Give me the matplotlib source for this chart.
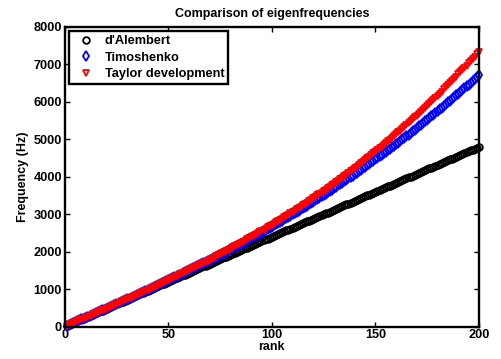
import matplotlib
matplotlib.use('Agg')
import matplotlib.pyplot as plt

plt.rcParams['font.family'] = ['Liberation Sans', 'DejaVu Sans']
plt.rcParams['font.weight'] = 'bold'

# Mode rank 1..200
rank = list(range(1, 201))

# Eigenfrequencies (Hz) for each model
freq_dalembert = [
    24, 48, 72, 96, 120, 144, 168, 192, 216, 240,
    264, 288, 312, 336, 360, 384, 408, 432, 456, 480,
    504, 528, 552, 576, 600, 624, 648, 672, 696, 720,
    744, 768, 792, 816, 840, 864, 888, 912, 936, 960,
    984, 1008, 1032, 1056, 1080, 1104, 1128, 1152, 1176, 1200,
    1224, 1248, 1272, 1296, 1320, 1344, 1368, 1392, 1416, 1440,
    1464, 1488, 1512, 1536, 1560, 1584, 1608, 1632, 1656, 1680,
    1704, 1728, 1752, 1776, 1800, 1824, 1848, 1872, 1896, 1920,
    1944, 1968, 1992, 2016, 2040, 2064, 2088, 2112, 2136, 2160,
    2184, 2208, 2232, 2256, 2280, 2304, 2328, 2352, 2376, 2400,
    2424, 2448, 2472, 2496, 2520, 2544, 2568, 2592, 2616, 2640,
    2664, 2688, 2712, 2736, 2760, 2784, 2808, 2832, 2856, 2880,
    2904, 2928, 2952, 2976, 3000, 3024, 3048, 3072, 3096, 3120,
    3144, 3168, 3192, 3216, 3240, 3264, 3288, 3312, 3336, 3360,
    3384, 3408, 3432, 3456, 3480, 3504, 3528, 3552, 3576, 3600,
    3624, 3648, 3672, 3696, 3720, 3744, 3768, 3792, 3816, 3840,
    3864, 3888, 3912, 3936, 3960, 3984, 4008, 4032, 4056, 4080,
    4104, 4128, 4152, 4176, 4200, 4224, 4248, 4272, 4296, 4320,
    4344, 4368, 4392, 4416, 4440, 4464, 4488, 4512, 4536, 4560,
    4584, 4608, 4632, 4656, 4680, 4704, 4728, 4752, 4776, 4800,
]

freq_timoshenko = [
    24, 48, 72, 96, 120, 144, 168, 192, 216, 240,
    264, 288, 313, 337, 361, 385, 409, 434, 458, 482,
    507, 531, 555, 580, 604, 629, 654, 678, 703, 728,
    752, 777, 802, 827, 852, 877, 902, 928, 953, 978,
    1004, 1029, 1055, 1080, 1106, 1132, 1157, 1183, 1209, 1235,
    1261, 1288, 1314, 1340, 1367, 1393, 1420, 1447, 1474, 1501,
    1528, 1555, 1582, 1609, 1637, 1664, 1692, 1720, 1748, 1775,
    1804, 1832, 1860, 1888, 1917, 1946, 1974, 2003, 2032, 2061,
    2091, 2120, 2149, 2179, 2209, 2239, 2269, 2299, 2329, 2360,
    2390, 2421, 2451, 2482, 2513, 2545, 2576, 2608, 2639, 2671,
    2703, 2735, 2768, 2800, 2833, 2865, 2898, 2931, 2964, 2997,
    3031, 3064, 3098, 3132, 3166, 3200, 3235, 3269, 3304, 3338,
    3374, 3409, 3444, 3480, 3516, 3551, 3587, 3623, 3660, 3696,
    3733, 3770, 3807, 3844, 3882, 3919, 3957, 3995, 4032, 4071,
    4109, 4148, 4187, 4226, 4265, 4304, 4344, 4383, 4423, 4463,
    4503, 4544, 4585, 4626, 4667, 4708, 4749, 4790, 4832, 4874,
    4916, 4958, 5001, 5044, 5087, 5130, 5173, 5216, 5260, 5303,
    5348, 5392, 5436, 5481, 5526, 5571, 5616, 5661, 5707, 5752,
    5799, 5845, 5891, 5938, 5985, 6032, 6079, 6126, 6174, 6221,
    6269, 6318, 6366, 6415, 6464, 6513, 6562, 6611, 6661, 6710,
]

freq_taylor = [
    24, 48, 72, 96, 120, 144, 168, 192, 216, 240,
    264, 289, 313, 337, 361, 385, 410, 434, 458, 483,
    507, 531, 556, 580, 605, 630, 654, 679, 704, 729,
    753, 778, 803, 828, 854, 879, 904, 929, 955, 980,
    1006, 1031, 1057, 1083, 1109, 1135, 1161, 1187, 1213, 1240,
    1266, 1293, 1319, 1346, 1373, 1400, 1427, 1454, 1481, 1508,
    1536, 1563, 1591, 1619, 1647, 1675, 1703, 1732, 1760, 1789,
    1817, 1846, 1875, 1904, 1934, 1963, 1993, 2022, 2052, 2082,
    2112, 2143, 2173, 2204, 2235, 2265, 2297, 2328, 2359, 2391,
    2423, 2455, 2487, 2519, 2552, 2584, 2617, 2650, 2683, 2717,
    2750, 2784, 2818, 2852, 2887, 2921, 2956, 2991, 3026, 3062,
    3097, 3133, 3169, 3205, 3242, 3278, 3315, 3352, 3390, 3427,
    3465, 3503, 3541, 3580, 3619, 3658, 3697, 3736, 3776, 3816,
    3856, 3897, 3937, 3978, 4019, 4061, 4102, 4144, 4187, 4229,
    4272, 4315, 4358, 4402, 4446, 4490, 4534, 4579, 4624, 4669,
    4715, 4760, 4806, 4853, 4900, 4947, 4994, 5041, 5089, 5137,
    5186, 5235, 5284, 5333, 5383, 5433, 5483, 5534, 5585, 5636,
    5688, 5740, 5792, 5845, 5898, 5951, 6004, 6058, 6113, 6167,
    6222, 6278, 6333, 6389, 6446, 6502, 6559, 6617, 6674, 6733,
    6791, 6850, 6909, 6969, 7029, 7089, 7150, 7211, 7272, 7334,
]

series_labels = ["d'Alembert", 'Timoshenko', 'Taylor development']
x_ticks = [0, 50, 100, 150, 200]
y_ticks = [0, 1000, 2000, 3000, 4000, 5000, 6000, 7000, 8000]

fig = plt.figure(figsize=(5.01, 3.59), dpi=100)
ax = fig.add_axes([0.1291, 0.0900, 0.8269, 0.8348])

marker_kw = dict(linestyle='none', markersize=4.8, markeredgewidth=1.3,
                 markerfacecolor='none', clip_on=False)
ax.plot(rank, freq_dalembert, marker='o', color='black', label=series_labels[0], **marker_kw)
ax.plot(rank, freq_timoshenko, marker='d', color='blue', label=series_labels[1], **marker_kw)
ax.plot(rank, freq_taylor, marker='v', color='red', label=series_labels[2], **marker_kw)

ax.set_xlim(0, 200)
ax.set_ylim(0, 8000)
ax.set_xticks(x_ticks)
ax.set_yticks(y_ticks)
ax.tick_params(direction='in', length=3.5, width=1.0, labelsize=9.2,
               top=True, right=True, pad=2)
for spine in ax.spines.values():
    spine.set_linewidth(1.7)
    spine.set_zorder(3)

ax.set_title('Comparison of eigenfrequencies', fontsize=9, fontweight='bold', pad=7)
ax.set_xlabel('rank', fontsize=9, fontweight='bold', labelpad=0)
ax.set_ylabel('Frequency (Hz)', fontsize=9, fontweight='bold', labelpad=3)

leg = ax.legend(loc='upper left', fontsize=9.2, numpoints=1, fancybox=False,
                borderaxespad=0.35, handlelength=2.0, handletextpad=0.5,
                labelspacing=0.35, borderpad=0.3)
leg.get_frame().set_edgecolor('black')
leg.get_frame().set_linewidth(1.7)
leg.get_frame().set_alpha(1)

fig.savefig('out.png', dpi=100)
